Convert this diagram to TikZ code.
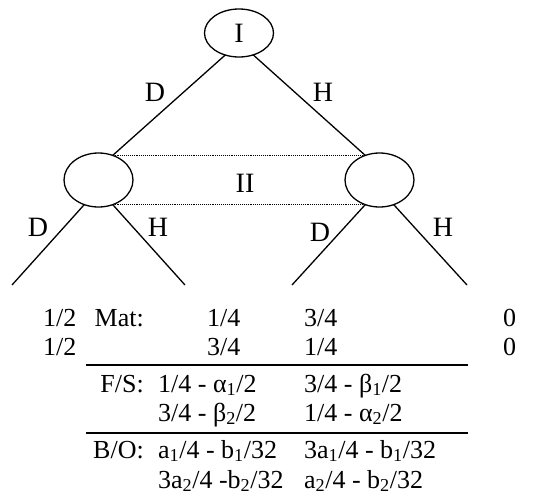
\documentclass[tikz,border=0pt]{standalone}
\usepackage{fontspec}
\setmainfont{Liberation Serif}
\usetikzlibrary{shapes.geometric}

\newcommand{\sbs}[1]{\textsubscript{#1}}

\begin{document}
\begin{tikzpicture}[x=1pt,y=-1pt,
  every node/.style={font=\fontsize{26}{30}\selectfont},
  player/.style={ellipse, draw, line width=1.3pt, minimum width=69pt, inner sep=0pt, outer sep=0pt},
  move/.style={font=\fontsize{28}{32}\selectfont},
  branch/.style={line width=1.3pt},
  info/.style={densely dotted, line width=0.9pt},
  cell/.style={inner sep=0pt, anchor=base west},
  tag/.style={inner sep=0pt, anchor=base east},
  rule/.style={line width=2pt}]
\useasboundingbox (0,0) rectangle (558,499);

% the game tree
\node[player, minimum height=48pt, move] (I) at (239,33) {I};
\node[player, minimum height=54pt] (L) at (98.5,180) {};
\node[player, minimum height=54pt] (R) at (379.5,180) {};

\draw[branch] (I.-122) -- (L.60);
\draw[branch] (I.-57) -- (R.120);
\draw[info] (L.60) -- (R.120);
\draw[info] (L.-60) -- (R.-120);

\coordinate (LL) at (12,285);
\coordinate (LR) at (185,285);
\coordinate (RL) at (292,285);
\coordinate (RR) at (467,285);
\draw[branch] (L.-120) -- (LL);
\draw[branch] (L.-60) -- (LR);
\draw[branch] (R.-120) -- (RL);
\draw[branch] (R.-60) -- (RR);

\node[move] (dI) at (155,92) {D};
\node[move] (hI) at (323,92) {H};
\node[move] (II) at (245,183) {II};
\node[move] (dL) at (38,227) {D};
\node[move] (hL) at (158,227) {H};
\node[move] (dR) at (320,232) {D};
\node[move] (hR) at (443,227) {H};

% the table of payoffs
\node[cell] (p1) at (43,326) {1/2};
\node[cell] (p2) at (43,355) {1/2};
\node[tag] (mat) at (144,326) {Mat:};
\node[cell] (m11) at (207,326) {1/4};
\node[cell] (m12) at (304,326) {3/4};
\node[cell] (m13) at (503,326) {0};
\node[cell] (m21) at (207,355) {3/4};
\node[cell] (m22) at (304,355) {1/4};
\node[cell] (m23) at (503,355) {0};
\draw[rule] (86,365) -- (468,365);

\node[tag] (fs) at (144,392) {F/S:};
\node[cell] (f11) at (158,392) {1/4 - α\sbs{1}/2};
\node[cell] (f12) at (304,392) {3/4 - β\sbs{1}/2};
\node[cell] (f21) at (158,421) {3/4 - β\sbs{2}/2};
\node[cell] (f22) at (304,421) {1/4 - α\sbs{2}/2};
\draw[rule] (86,433) -- (468,433);

\node[tag] (bo) at (144,458) {B/O:};
\node[cell] (b11) at (158,458) {a\sbs{1}/4 - b\sbs{1}/32};
\node[cell] (b12) at (304,458) {3a\sbs{1}/4 - b\sbs{1}/32};
\node[cell] (b21) at (158,488) {3a\sbs{2}/4 -b\sbs{2}/32};
\node[cell] (b22) at (304,488) {a\sbs{2}/4 - b\sbs{2}/32};

\end{tikzpicture}
\end{document}
